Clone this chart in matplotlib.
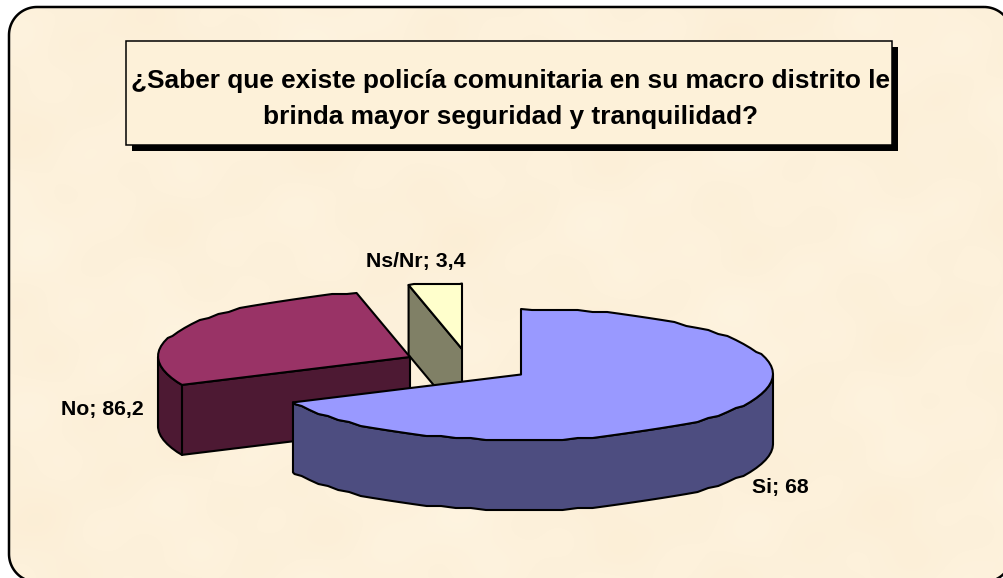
from matplotlib import pyplot as plt
from matplotlib.patches import Polygon, Rectangle
import numpy as np

plt.rcParams['font.family'] = ['Liberation Sans', 'DejaVu Sans']

title = '¿Saber que existe policía comunitaria en su macro distrito le\nbrinda mayor seguridad y tranquilidad?'

# slices, clockwise from 12 o'clock. 'No' is labelled 86,2 but drawn as the remainder
categories = ['Si', 'No', 'Ns/Nr']
shares = [68, 28.6, 3.4]
value_labels = ['68', '86,2', '3,4']

top_colors = ['#9999ff', '#993366', '#ffffcc']
side_colors = ['#4d4d80', '#4d1933', '#808066']

# pie apex of every slice after the explosion, in pixels
centers = [(521, 374.5), (410, 357), (462, 349)]
label_pos = [(780.5, 488), (102.5, 410), (416, 262)]
RX, RY, DEPTH = 252, 65.5, 70
STEP = 3.5


def arc(center, a0, a1):
    # inner points sit on a fixed angle grid so top rim and wall share them
    lo, hi = min(a0, a1), max(a0, a1)
    inner = STEP * np.arange(np.floor(lo / STEP) + 1, np.ceil(hi / STEP))
    t = np.radians(inner)
    x = center[0] + RX * np.cos(t)
    # the source is a coarse metafile, its curves wobble a bit
    y = np.round((center[1] - RY * np.sin(t)) / 2.0) * 2.0
    pts = np.column_stack([x, y])
    pts = np.vstack([rim_point(center, lo), pts, rim_point(center, hi)])
    return pts if a0 < a1 else pts[::-1]


def rim_point(center, a):
    t = np.radians(a)
    return np.asarray(center) + [RX * np.cos(t), -RY * np.sin(t)]


def rounded_frame(x0, y0, x1, y1, r):
    pts = []
    corners = [(x1 - r, y0 + r, 90, 0), (x1 - r, y1 - r, 0, -90),
               (x0 + r, y1 - r, -90, -180), (x0 + r, y0 + r, 180, 90)]
    for cx, cy, a0, a1 in corners:
        t = np.radians(np.linspace(a0, a1, 24))
        pts.append(np.column_stack([cx + r * np.cos(t), cy - r * np.sin(t)]))
    return np.vstack(pts)


def texture(ax):
    yy, xx = np.mgrid[0:578, 0:1004]
    n = (np.sin(xx / 47.0 + 1.3) * np.sin(yy / 31.0 + 0.4)
         + 0.7 * np.sin(xx / 19.0 + yy / 43.0) * np.sin(yy / 17.0 - xx / 71.0)
         + 0.5 * np.sin(xx / 113.0 - 2.0) * np.cos(yy / 83.0))
    base = np.array([253, 241, 219]) / 255
    img = np.clip(base[None, None, :] + n[..., None] * np.array([0.002, 0.005, 0.009]), 0, 1)
    return ax.imshow(img, extent=(0, 1004, 578, 0), aspect='auto', zorder=0)


fig = plt.figure(figsize=(10.04, 5.78), dpi=100)
ax = fig.add_axes([0, 0, 1, 1])
bg = texture(ax)
ax.set_xlim(0, 1004)
ax.set_ylim(578, 0)
ax.axis('off')

# the frame runs past the right and bottom of the picture
frame = Polygon(rounded_frame(9, 7, 1012, 582, 28), closed=True, fc='none', ec='black', lw=1.8, zorder=1)
ax.add_patch(frame)
bg.set_clip_path(frame)

# title box with hard shadow
ax.add_patch(Rectangle((132, 47), 766, 104, fc='black', ec='none', zorder=2))
ax.add_patch(Rectangle((126, 41), 766, 104, fc='#fdf1d9', ec='black', lw=1.1, zorder=3))
ax.text(510.5, 99, title, ha='center', va='center', fontsize=18.9, fontweight='bold',
        linespacing=1.62, zorder=4)

angles = 90 - np.cumsum([0] + shares) * 3.6
# painter's order: back slices first
for z, i in enumerate([2, 1, 0]):
    c = np.array(centers[i], dtype=float)
    start, end = angles[i], angles[i + 1]
    kw = dict(ec='black', lw=1.5, joinstyle='round', zorder=5 + z)
    # cut face, seen only where the slice lies above the cut, on the left side
    if 90 < (start % 360) < 270:
        p = rim_point(c, start)
        ax.add_patch(Polygon([c, p, p + [0, DEPTH], c + [0, DEPTH]], fc=side_colors[i], **kw))
    # outer wall, only the front half of the rim shows
    lo, hi = max(end, -180), min(start, 0)
    if lo < hi:
        wall = arc(c, lo, hi)
        ax.add_patch(Polygon(np.vstack([wall, (wall + [0, DEPTH])[::-1]]), fc=side_colors[i], **kw))
    ax.add_patch(Polygon(np.vstack([c, arc(c, start, end)]), fc=top_colors[i], **kw))

for i, name in enumerate(categories):
    ax.text(label_pos[i][0], label_pos[i][1], f'{name}; {value_labels[i]}', ha='center', va='center',
            fontsize=15.3, fontweight='bold', zorder=10)

fig.savefig('out.png', dpi=100)
